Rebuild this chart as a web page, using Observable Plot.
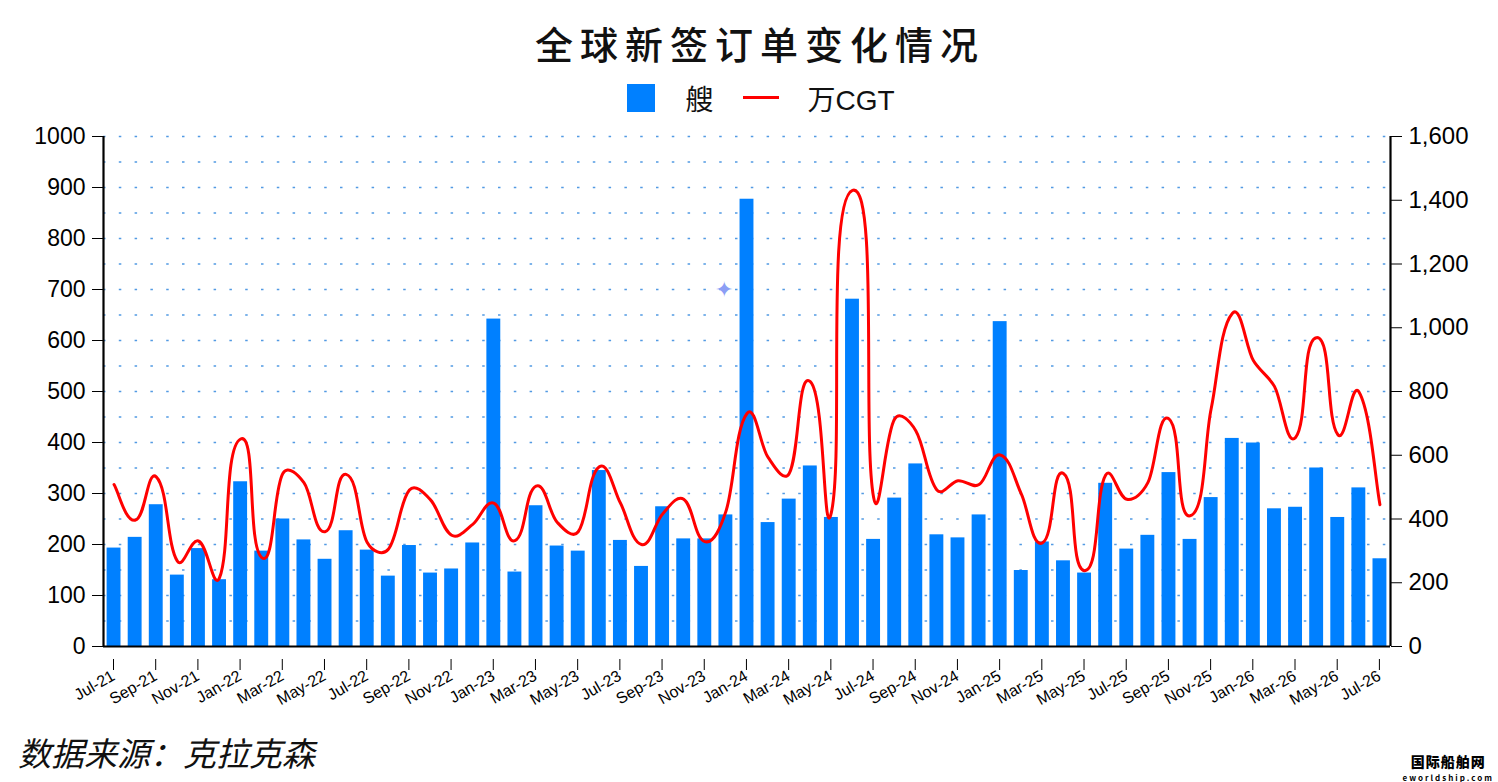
<!DOCTYPE html>
<html>
<head>
<meta charset="utf-8">
<script src="https://cdn.jsdelivr.net/npm/d3@7"></script>
<script src="https://cdn.jsdelivr.net/npm/@observablehq/plot@0.6"></script>
<style>
  html, body { margin: 0; padding: 0; background: #fff; }
  #wrap { position: relative; width: 1498px; height: 782px; overflow: hidden; }
  #title { height: 75px; line-height: 86px; text-align: center; padding-left: 22px;
    font-family: "Noto Sans CJK SC", sans-serif; font-size: 38px; font-weight: 500; letter-spacing: 7px; color: #111; }
  #legend { height: 45px; display: flex; align-items: center; justify-content: center; padding-left: 24px;
    font-family: "Noto Sans CJK SC", sans-serif; font-size: 28px; color: #111; }
  .sw { display: inline-block; width: 28px; height: 28px; background: #0080ff; margin-right: 30px; }
  .ln { display: inline-block; width: 36px; height: 3px; background: #ff0000; margin: 0 28px 0 30px; }
  .cgt { font-family: "Liberation Sans Narrow", "Liberation Sans", sans-serif; }
  #caption { height: 52px; line-height: 44px; padding-left: 18px;
    font-family: "Noto Sans CJK SC", sans-serif; font-size: 33px; font-style: italic; color: #111; }
  #logo { position: absolute; right: 4px; bottom: -2px; text-align: center; font-family: "Noto Sans CJK SC", sans-serif; color: #000; }
  #logo .a { font-size: 14px; font-weight: 900; line-height: 21px; letter-spacing: 1px; }
  #logo .b { font-size: 8px; line-height: 12px; letter-spacing: 2px; font-weight: 700; }
  #star { position: absolute; left: 715px; top: 277px; font-size: 22px; color: #8c9ef5; }
</style>
</head>
<body>
<div id="wrap">
  <div id="title">全球新签订单变化情况</div>
  <div id="legend"><span class="sw"></span><span>艘</span><span class="ln"></span><span>万<span class="cgt">CGT</span></span></div>
  <div id="chart"></div>
  <div id="caption">数据来源：克拉克森</div>
  <div id="star">✦</div>
  <div id="logo"><div class="a">国际船舶网</div><div class="b">eworldship.com</div></div>
</div>
<script>
const months = ["Jul-21","Aug-21","Sep-21","Oct-21","Nov-21","Dec-21",
  "Jan-22","Feb-22","Mar-22","Apr-22","May-22","Jun-22","Jul-22","Aug-22","Sep-22","Oct-22","Nov-22","Dec-22",
  "Jan-23","Feb-23","Mar-23","Apr-23","May-23","Jun-23","Jul-23","Aug-23","Sep-23","Oct-23","Nov-23","Dec-23",
  "Jan-24","Feb-24","Mar-24","Apr-24","May-24","Jun-24","Jul-24","Aug-24","Sep-24","Oct-24","Nov-24","Dec-24",
  "Jan-25","Feb-25","Mar-25","Apr-25","May-25","Jun-25","Jul-25","Aug-25","Sep-25","Oct-25","Nov-25","Dec-25",
  "Jan-26","Feb-26","Mar-26","Apr-26","May-26","Jun-26","Jul-26"];

// 艘 (ships) — left axis
const ships = [193,214,278,140,192,131,
  323,187,250,209,171,227,189,138,198,144,152,203,
  642,146,276,197,187,345,208,157,274,211,211,258,
  877,243,289,354,253,681,210,291,358,219,213,258,
  637,149,205,168,144,320,191,218,341,210,292,408,
  399,270,273,350,253,311,172];

// 万CGT — right axis
const cgt = [508,396,532,268,331,216,
  651,279,543,514,360,540,326,305,491,460,349,383,
  450,332,503,390,360,564,450,320,416,462,329,424,
  731,593,543,831,421,1431,468,714,677,491,520,508,
  601,479,325,543,238,538,462,514,714,410,746,1045,
  897,816,656,969,665,799,445];

const leftTicks = [0,100,200,300,400,500,600,700,800,900,1000];
const rightTicks = [0,200,400,600,800,1000,1200,1400,1600];
const gridVals = d3.range(50, 1001, 50);
const ratio = 1600 / 1000;

const data = months.map((m, i) => ({i, month: m, ships: ships[i], cgt: cgt[i]}));
const xTicks = d3.range(0, months.length, 2);

// Smoothed curve (spreadsheet-style), tangent length grows with the chord lengths
function smoothCurve(context) {
  let pts;
  return {
    areaStart() {}, areaEnd() {},
    lineStart() { pts = []; },
    point(x, y) { pts.push([+x, +y]); },
    lineEnd() {
      const n = pts.length;
      if (!n) return;
      context.moveTo(pts[0][0], pts[0][1]);
      if (n === 1) return;
      const tan = pts.map((p, i) => {
        const a = pts[Math.max(0, i - 1)], b = pts[Math.min(n - 1, i + 1)];
        const vx = b[0] - a[0], vy = b[1] - a[1];
        const len = Math.hypot(vx, vy) || 1;
        return [vx / len, vy / len, len];
      });
      for (let i = 0; i < n - 1; i++) {
        const p = pts[i], q = pts[i + 1];
        const d = Math.hypot(q[0] - p[0], q[1] - p[1]);
        const m0 = Math.sqrt(tan[i][2] / 2 * d) / 3;
        const m1 = Math.sqrt(tan[i + 1][2] / 2 * d) / 3;
        context.bezierCurveTo(p[0] + tan[i][0] * m0, p[1] + tan[i][1] * m0,
          q[0] - tan[i + 1][0] * m1, q[1] - tan[i + 1][1] * m1, q[0], q[1]);
      }
    }
  };
}

const chart = Plot.plot({
  width: 1498,
  height: 610,
  marginLeft: 103,
  marginRight: 108,
  marginTop: 16,
  marginBottom: 84,
  style: {fontFamily: "'Liberation Sans', Arial, sans-serif", fontSize: "22px", color: "#000", background: "#fff"},
  x: {type: "linear", domain: [0, months.length]},
  y: {domain: [0, 1000]},
  marks: [
    Plot.ruleY(gridVals, {stroke: "#3f8fe0", strokeWidth: 1.6, strokeDasharray: "2.5 13.3", strokeOpacity: 0.9}),
    Plot.rectY(data, {x1: "i", x2: d => d.i + 1, y: "ships", fill: "#0080ff", insetLeft: 3.6, insetRight: 3.6}),
    Plot.lineY(data, {x: d => d.i + 0.5, y: d => d.cgt / ratio, stroke: "#ff0000", strokeWidth: 3, curve: smoothCurve}),
    Plot.axisY({ticks: leftTicks, anchor: "left", tickSize: 11, tickPadding: 7, fontSize: 23, tickFormat: d => String(d), label: null}),
    Plot.axisY({ticks: rightTicks.map(v => v / ratio), anchor: "right", tickSize: 11, tickPadding: 7, fontSize: 24,
      tickFormat: v => d3.format(",")(Math.round(v * ratio)), label: null}),
    Plot.axisX({ticks: xTicks, tickFormat: i => months[i], tickRotate: -30, tickSize: 11, tickPadding: 4, fontSize: 16,
      textStroke: "none", dx: 10, dy: 13, label: null}),
    Plot.ruleY([0], {stroke: "#000", strokeWidth: 2.2}),
    Plot.ruleX([0, months.length], {stroke: "#000", strokeWidth: 2.2})
  ]
});
document.getElementById("chart").appendChild(chart);
</script>
</body>
</html>
